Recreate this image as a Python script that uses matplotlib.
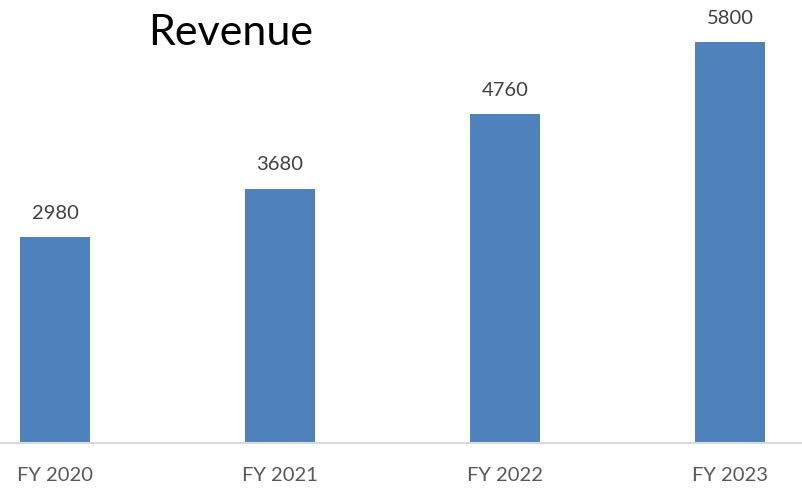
import matplotlib
matplotlib.use("Agg")
import matplotlib.pyplot as plt

categories = ["FY 2020", "FY 2021", "FY 2022", "FY 2023"]
revenue = [2980, 3680, 4760, 5800]
title = "Revenue"

plt.rcParams['font.family'] = ['Lato', 'DejaVu Sans']

fig = plt.figure(figsize=(8.03, 5.0), dpi=100)
ax = fig.add_axes([0, 57/500, 1, 443/500])
x = list(range(len(categories)))
bars = ax.bar(x, revenue, width=0.311, color="#4F81BD", zorder=2)
ax.set_xlim(-55/225, (803-55)/225)
ax.set_ylim(0, 6407)

for xi, v in zip(x, revenue):
    ax.annotate(f"{v}", (xi, v), xytext=(0, 11), textcoords="offset points",
                ha="center", va="bottom", fontsize=14.5, color="#404040")

for s in ["top", "right", "left"]:
    ax.spines[s].set_visible(False)
ax.spines["bottom"].set_color("#D9D9D9")
ax.spines["bottom"].set_linewidth(1.5)
ax.set_yticks([])
ax.set_xticks(x)
ax.set_xticklabels(categories, fontsize=14.5, color="#595959")
ax.tick_params(axis="x", length=0, pad=17)

fig.text(231/803, 1 - 33/500, title, ha="center", va="center", fontsize=31, color="black")

fig.savefig("out.png", dpi=100)
